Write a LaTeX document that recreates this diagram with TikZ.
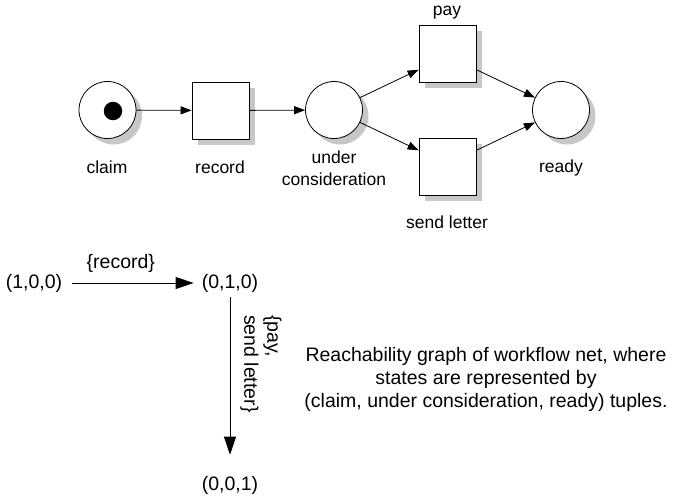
\documentclass[tikz,border=0pt]{standalone}
\usepackage{fontspec}
\setmainfont{Liberation Sans}
\usepackage{tikz}
\usetikzlibrary{calc,arrows.meta,shadows}

\begin{document}
\begin{tikzpicture}[x=1pt,y=-1pt,
      every node/.style={font=\fontsize{17.5}{22}\selectfont},
      place/.style={circle,draw,line width=0.8pt,fill=white,minimum size=57pt,inner sep=0pt,
        drop shadow={shadow xshift=6pt,shadow yshift=-6pt,fill=black!22,opacity=1}},
      trans/.style={rectangle,draw,line width=0.8pt,fill=white,minimum size=57pt,inner sep=0pt,
        drop shadow={shadow xshift=6pt,shadow yshift=-6pt,fill=black!22,opacity=1}},
      token/.style={circle,fill=black,minimum size=18.5pt,inner sep=0pt},
      lbl/.style={align=center,inner sep=0pt},
      state/.style={font=\fontsize{19.5}{23}\selectfont,inner sep=0pt},
      arc/.style={-{Triangle[length=11pt,width=8pt]},line width=0.8pt},
      reach/.style={-{Triangle[length=18pt,width=12pt]},line width=0.8pt}]
      \useasboundingbox (0,0) rectangle (675,496);
      % workflow net
      \node[place] (claim) at (107.5,110) {};
      \node[token] (tok) at (113,111) {};
      \node[trans] (record) at (220.5,110.5) {};
      \node[place] (uc) at (334,110) {};
      \node[trans] (pay) at (447.5,53.5) {};
      \node[trans] (send) at (447.5,166.5) {};
      \node[place] (ready) at (561,110) {};
      \node[lbl] (claimlbl) at (107,167) {claim};
      \node[lbl] (recordlbl) at (220,167) {record};
      \node[lbl] (uclbl) at (334,168.5) {under\\consideration};
      \node[lbl] (readylbl) at (561,168) {ready};
      \node[lbl] (paylbl) at (447,13) {pay};
      \node[lbl] (sendlbl) at (447,222) {send letter};
      \coordinate (payin) at ($(pay.south west)!0.22!(pay.north west)$);
      \coordinate (payout) at ($(pay.south east)!0.22!(pay.north east)$);
      \coordinate (sendin) at ($(send.north west)!0.22!(send.south west)$);
      \coordinate (sendout) at ($(send.north east)!0.22!(send.south east)$);
      \draw[arc] (claim) -- (record);
      \draw[arc] (record) -- (uc);
      \draw[arc] (uc) -- (payin);
      \draw[arc] (uc) -- (sendin);
      \draw[arc] (payout) -- (ready);
      \draw[arc] (sendout) -- (ready);
      % reachability graph
      \node[state] (s100) at (34,283) {(1,0,0)};
      \node[state] (s010) at (230,283) {(0,1,0)};
      \node[state] (s001) at (230,485) {(0,0,1)};
      \draw[reach,shorten <=10pt,shorten >=8pt] (s100) -- (s010)
        node[state,pos=0.42,above=10pt] {\{record\}};
      \draw[reach,shorten <=5pt,shorten >=21pt] (s010) -- (s001)
        node[state,pos=0.39,anchor=south,rotate=-90,inner ysep=10pt,align=left] {\{pay,\\send letter\}};
      \node[state,align=center] (caption) at (486,379) {Reachability graph of workflow net, where\\states are represented by\\(claim, under consideration, ready) tuples.};
    \end{tikzpicture}
\end{document}
